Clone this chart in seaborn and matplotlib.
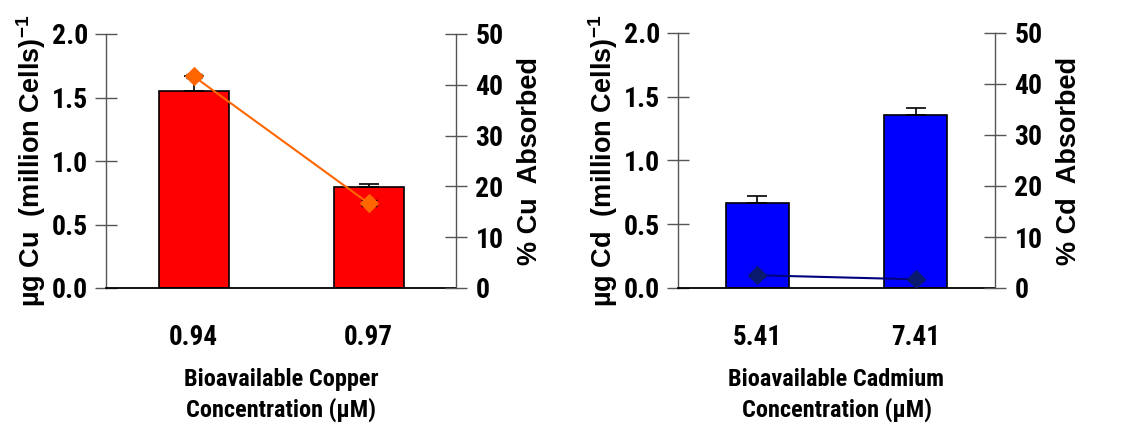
import matplotlib
matplotlib.use("Agg")
import matplotlib.pyplot as plt
import seaborn as sns
import pandas as pd

# Copper uptake
cu_conc = ["0.94", "0.97"]
cu_uptake = [1.555, 0.798]
cu_uptake_err = [0.115, 0.018]
cu_pct = [41.7, 16.7]
cu_pct_err = [0.4, 0.6]

# Cadmium uptake
cd_conc = ["5.41", "7.41"]
cd_uptake = [0.664, 1.355]
cd_uptake_err = [0.056, 0.055]
cd_pct = [2.5, 1.7]
cd_pct_err = [0.3, 0.3]

left_ticks = [0.0, 0.5, 1.0, 1.5, 2.0]
right_ticks = [0, 10, 20, 30, 40, 50]

sns.set_style("white")
NARROW = ["Roboto Condensed", "Liberation Sans", "DejaVu Sans"]
WIDE = ["Liberation Sans", "DejaVu Sans"]
plt.rcParams["font.family"] = NARROW
plt.rcParams["mathtext.default"] = "regular"
plt.rcParams["text.color"] = "black"
plt.rcParams["axes.labelcolor"] = "black"
plt.rcParams["xtick.labelcolor"] = "black"
plt.rcParams["ytick.labelcolor"] = "black"

fig = plt.figure(figsize=(11.41, 4.28), dpi=100)

AX_GRAY = "#555555"


def panel(rect, conc, uptake, err, pct, pct_err, bar_color, line_color,
          marker_color, ylab, rlab, xlab):
    ax = fig.add_axes(rect)
    df = pd.DataFrame({"conc": conc, "uptake": uptake})
    sns.barplot(data=df, x="conc", y="uptake", color=bar_color, width=0.4,
                edgecolor="black", linewidth=1.2, saturation=1, ax=ax, zorder=2)
    ax.errorbar(range(len(conc)), uptake, yerr=[[0] * len(err), err],
                fmt="none", ecolor="black", elinewidth=1.2, capsize=7,
                capthick=1.2, zorder=3)
    ax.set_xlim(-0.5, len(conc) - 0.5)
    ax.set_ylim(0, 2.0)
    ax.set_yticks(left_ticks)
    ax.set_yticklabels([f"{t:.1f}" for t in left_ticks], fontsize=20,
                       fontweight="bold")
    # boundary ticks between categories, labels centred under bars
    ax.set_xticks([i - 0.5 for i in range(len(conc) + 1)])
    ax.set_xticklabels([""] * (len(conc) + 1))
    ax.set_xticks(range(len(conc)), minor=True)
    ax.set_xticklabels(conc, minor=True, fontsize=19.5, fontweight="bold")
    ax.tick_params(axis="x", which="minor", length=0, pad=26)
    ax.tick_params(axis="x", which="major", direction="inout", length=20,
                   width=1, color=AX_GRAY)
    ax.tick_params(axis="y", direction="inout", length=16, width=1,
                   color=AX_GRAY, pad=5, left=True)
    ax.set_xlabel(xlab, fontsize=17.5, fontweight="bold", labelpad=12,
                  linespacing=1.35)
    ax.set_ylabel(ylab, fontsize=19.5, fontweight="bold", family=WIDE,
                  labelpad=3)
    for s in ("top", "right"):
        ax.spines[s].set_visible(False)
    ax.spines["left"].set_color(AX_GRAY)
    ax.spines["left"].set_linewidth(1)
    ax.spines["bottom"].set_color("black")
    ax.spines["bottom"].set_linewidth(1.3)
    ax.spines["bottom"].set_zorder(5)

    ax2 = ax.twinx()
    ax2.errorbar(range(len(conc)), pct, yerr=pct_err, fmt="none",
                 ecolor="black", elinewidth=1, capsize=6, zorder=3)
    sns.lineplot(x=list(range(len(conc))), y=pct, ax=ax2, color=line_color,
                 linewidth=1.5, marker="D", markersize=9,
                 markerfacecolor=marker_color, markeredgecolor=marker_color,
                 zorder=4)
    ax2.set_ylim(0, 50)
    ax2.set_yticks(right_ticks)
    ax2.set_yticklabels([str(t) for t in right_ticks], fontsize=20,
                        fontweight="bold")
    ax2.tick_params(axis="y", direction="inout", length=16, width=1,
                    color=AX_GRAY, pad=6, right=True)
    ax2.set_ylabel(rlab, fontsize=19.5, fontweight="bold", family=WIDE,
                   labelpad=10)
    for s in ("top", "left", "bottom"):
        ax2.spines[s].set_visible(False)
    ax2.spines["right"].set_visible(True)
    ax2.spines["right"].set_color(AX_GRAY)
    ax2.spines["right"].set_linewidth(1)
    return ax, ax2


panel([106 / 1141, 140 / 428, 350 / 1141, 254 / 428],
      cu_conc, cu_uptake, cu_uptake_err, cu_pct, cu_pct_err,
      "#FF0000", "#FF6600", "#FF6600",
      "µg Cu  (million Cells)$^{-1}$", "% Cu  Absorbed",
      "Bioavailable Copper\nConcentration (µM)")

panel([678 / 1141, 140 / 428, 317 / 1141, 255 / 428],
      cd_conc, cd_uptake, cd_uptake_err, cd_pct, cd_pct_err,
      "#0000FF", "#000080", "#0A1A6E",
      "µg Cd  (million Cells)$^{-1}$", "% Cd  Absorbed",
      "Bioavailable Cadmium\nConcentration (µM)")

fig.savefig("out.png", dpi=100)
